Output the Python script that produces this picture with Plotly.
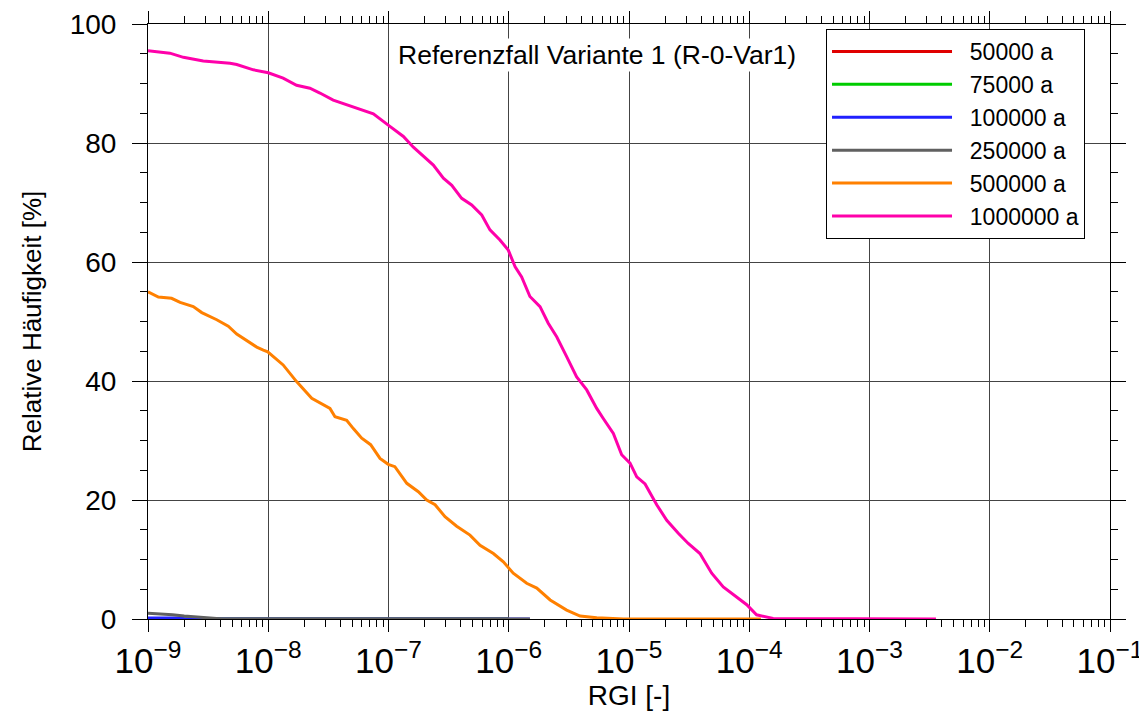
import plotly.graph_objects as go

FONT = "Liberation Sans, Arial, sans-serif"

# ---- data ----
series_names = ["50000 a", "75000 a", "100000 a", "250000 a", "500000 a", "1000000 a"]
series_colors = ["#e00000", "#00cc00", "#2020ff", "#606060", "#ff8000", "#ff00aa"]

x_50k = [1e-9, 1e-6]
y_50k = [0, 0]

x_75k = [1e-9, 1e-6]
y_75k = [0, 0]

x_100k = [1e-9, 1.5e-9, 1.9e-9, 2.0e-9, 1.5e-6]
y_100k = [0.15, 0.15, 0.15, 0, 0]

x_250k = [1e-9, 1.3e-9, 1.6e-9, 2.0e-9, 2.6e-9, 3.2e-9, 4.2e-9, 1.5e-6]
y_250k = [0.95, 0.85, 0.7, 0.5, 0.3, 0.15, 0, 0]

x_500k = [1.00e-9, 1.22e-9, 1.57e-9, 1.85e-9, 2.38e-9, 2.80e-9, 3.73e-9, 4.65e-9,
          5.47e-9, 8.02e-9, 9.10e-9, 9.90e-9, 1.33e-8, 1.72e-8, 2.30e-8, 3.26e-8,
          3.59e-8, 4.49e-8, 5.10e-8, 5.99e-8, 7.10e-8, 8.50e-8, 9.95e-8, 1.13e-7,
          1.42e-7, 1.77e-7, 2.08e-7, 2.44e-7, 2.95e-7, 3.69e-7, 4.76e-7, 5.77e-7,
          7.45e-7, 9.02e-7, 1.09e-6, 1.41e-6, 1.71e-6, 2.21e-6, 3.03e-6, 3.92e-6,
          5.39e-6, 6.95e-6, 9.0e-6, 1.25e-4]
y_500k = [55.0, 54.1, 53.9, 53.2, 52.5, 51.5, 50.3, 49.2,
          47.9, 45.7, 45.2, 44.9, 42.7, 39.9, 37.1, 35.4,
          34.0, 33.4, 32.0, 30.4, 29.3, 27.0, 26.0, 25.6,
          22.8, 21.4, 20.0, 19.2, 17.2, 15.6, 14.1, 12.4,
          11.0, 9.6, 7.7, 6.0, 5.2, 3.2, 1.5, 0.5,
          0.2, 0.1, 0, 0]

x_1000k = [1.00e-9, 1.52e-9, 1.97e-9, 2.38e-9, 2.88e-9, 4.81e-9, 5.47e-9, 7.52e-9,
           1.00e-8, 1.33e-8, 1.72e-8, 2.22e-8, 2.69e-8, 3.47e-8, 4.49e-8, 5.80e-8,
           7.48e-8, 9.95e-8, 1.33e-7, 1.61e-7, 1.83e-7, 2.36e-7, 2.86e-7, 3.36e-7,
           4.06e-7, 4.92e-7, 5.96e-7, 6.98e-7, 8.45e-7, 9.91e-7, 1.13e-6, 1.28e-6,
           1.50e-6, 1.82e-6, 2.13e-6, 2.51e-6, 3.03e-6, 3.67e-6, 4.45e-6, 5.39e-6,
           6.11e-6, 7.41e-6, 8.69e-6, 1.02e-5, 1.16e-5, 1.36e-5, 1.70e-5, 2.06e-5,
           2.57e-5, 3.11e-5, 3.89e-5, 4.87e-5, 6.08e-5, 7.86e-5, 9.53e-5, 1.15e-4,
           1.40e-4, 1.58e-4, 3.57e-3]
y_1000k = [95.5, 95.1, 94.4, 94.1, 93.8, 93.4, 93.2, 92.3,
           91.8, 90.9, 89.7, 89.2, 88.4, 87.2, 86.4, 85.7,
           84.9, 83.0, 81.1, 79.3, 78.3, 76.3, 74.1, 72.9,
           70.7, 69.6, 67.9, 65.4, 63.7, 62.0, 59.2, 57.5,
           54.2, 52.5, 49.7, 47.4, 44.1, 40.7, 38.5, 35.4,
           33.7, 31.2, 27.6, 26.2, 23.9, 22.7, 19.2, 16.6,
           14.4, 12.7, 11.0, 7.7, 5.4, 3.7, 2.4, 0.7,
           0.3, 0.1, 0]

xs = [x_50k, x_75k, x_100k, x_250k, x_500k, x_1000k]
ys = [y_50k, y_75k, y_100k, y_250k, y_500k, y_1000k]

title_text = "Referenzfall Variante 1 (R-0-Var1)"
x_title = "RGI [-]"
y_title = "Relative Häufigkeit [%]"

fig = go.Figure()
for name, color, x, y in zip(series_names, series_colors, xs, ys):
    fig.add_trace(go.Scatter(x=x, y=y, mode="lines", name="\u00a0\u00a0" + name,
                             line=dict(color=color, width=3)))

axis_common = dict(
    showline=True, linecolor="black", linewidth=1, mirror="allticks",
    ticks="outside", tickcolor="black", tickwidth=1,
    showgrid=True, gridcolor="#444444", gridwidth=1, zeroline=False,
    automargin=False,
)

fig.update_xaxes(type="log", range=[-9, -1], dtick=1, exponentformat="power",
                 ticklen=12, ticklabeloverflow="allow",
                 tickfont=dict(family=FONT, size=28, color="black"),
                 minor=dict(ticks="outside", ticklen=7, dtick="D1", tickcolor="black",
                            showgrid=False),
                 title=dict(text=x_title, font=dict(family=FONT, size=28, color="black"),
                            standoff=14),
                 **axis_common)
fig.update_yaxes(range=[0, 100], dtick=20, ticklen=15, ticklabelstandoff=10,
                 tickfont=dict(family=FONT, size=28, color="black"),
                 minor=dict(ticks="outside", ticklen=7, dtick=5, tickcolor="black",
                            showgrid=False),
                 title=dict(text=y_title, font=dict(family=FONT, size=26, color="black"),
                            standoff=20),
                 **axis_common)

fig.add_annotation(text=title_text, xref="paper", yref="paper", x=0.4667, y=0.948,
                   showarrow=False, font=dict(family=FONT, size=26.5, color="black"),
                   xanchor="center", yanchor="middle", bgcolor="white")

fig.update_layout(
    width=1139, height=711,
    margin=dict(l=148, r=29, t=24, b=92),
    paper_bgcolor="white", plot_bgcolor="white",
    font=dict(family=FONT, color="black"),
    showlegend=True,
    legend=dict(x=0.7048, y=0.9916, xanchor="left", yanchor="top",
                bgcolor="white", bordercolor="black", borderwidth=1,
                font=dict(family=FONT, size=23, color="black"),
                itemwidth=120, tracegroupgap=0),
)

fig.write_html("out.html")
